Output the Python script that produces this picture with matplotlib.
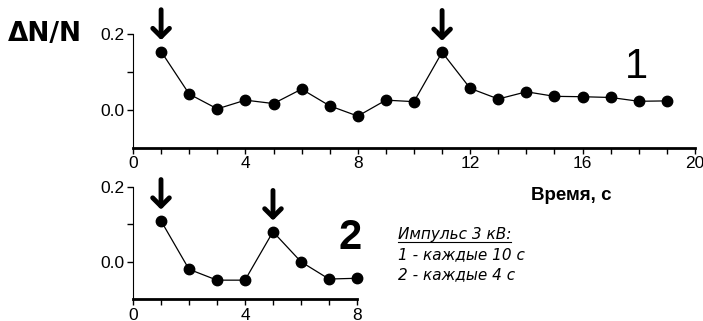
import numpy as np
import matplotlib
matplotlib.use("Agg")
import matplotlib.pyplot as plt
from matplotlib.lines import Line2D
from matplotlib.ticker import MultipleLocator

plt.rcParams['font.family'] = ['Liberation Sans', 'DejaVu Sans']

# Series 1: pulse every 10 s
t1 = [1, 2, 3, 4, 5, 6, 7, 8, 9, 10, 11, 12, 13, 14, 15, 16, 17, 18, 19]
dn1 = [0.154, 0.042, 0.003, 0.026, 0.017, 0.055, 0.011, -0.016, 0.026, 0.022,
       0.152, 0.057, 0.029, 0.048, 0.036, 0.035, 0.033, 0.023, 0.024]
pulses1 = [1, 11]

# Series 2: pulse every 4 s
t2 = [1, 2, 3, 4, 5, 6, 7, 8]
dn2 = [0.109, -0.020, -0.049, -0.049, 0.080, 0.0, -0.046, -0.044]
pulses2 = [1, 5]

ytick_vals = [0.0, 0.1, 0.2]
ytick_labels = ['0.0', '', '0.2']

fig = plt.figure(figsize=(7.03, 3.21), dpi=100)
ax1 = fig.add_axes([0.1892, 0.5389, 0.7994, 0.3551])
ax2 = fig.add_axes([0.1892, 0.0676, 0.3186, 0.3508])


def style(ax, xmax):
    ax.set_xlim(0, xmax)
    ax.set_ylim(-0.1, 0.2)
    for s in ['top', 'right']:
        ax.spines[s].set_visible(False)
    ax.spines['left'].set_linewidth(0.8)
    ax.spines['bottom'].set_linewidth(2)
    ax.xaxis.set_major_locator(MultipleLocator(4))
    ax.xaxis.set_minor_locator(MultipleLocator(1))
    ax.set_yticks(ytick_vals)
    ax.set_yticklabels(ytick_labels)
    ax.tick_params(which='both', direction='out', length=4, width=1, labelsize=12.5, pad=2)
    ax.patch.set_alpha(0)


style(ax1, 20)
style(ax2, 8)

ax1.plot(t1, dn1, '-o', color='black', lw=0.9, ms=7.5, clip_on=False)
ax2.plot(t2, dn2, '-o', color='black', lw=0.9, ms=7.5, clip_on=False)

# pulse arrows above the peaks
for ax, ts, ys, pulses in [(ax1, t1, dn1, pulses1), (ax2, t2, dn2, pulses2)]:
    for p in pulses:
        y = ys[ts.index(p)]
        ax.annotate('', xy=(p, y + 0.03), xytext=(p, y + 0.11),
                    arrowprops=dict(arrowstyle='->,head_length=0.6,head_width=0.6',
                                    lw=3.5, color='black', shrinkA=0, shrinkB=0),
                    annotation_clip=False)

fig.text(0.011, 0.895, 'ΔN/N', fontsize=19, fontweight='bold',
         family='DejaVu Sans', va='center', ha='left')
fig.text(0.906, 0.79, '1', fontsize=30, va='center', ha='center')
fig.text(0.498, 0.26, '2', fontsize=30, fontweight='bold', va='center', ha='center')
fig.text(0.755, 0.39, 'Время, с', fontsize=13.5, fontweight='bold',
         va='center', ha='left')

fig.text(0.566, 0.268, 'Импульс 3 кВ:', fontsize=11, style='italic',
         family='DejaVu Sans', va='center', ha='left')
fig.add_artist(Line2D([0.566, 0.727], [0.247, 0.247], transform=fig.transFigure,
                      color='black', lw=0.8))
fig.text(0.566, 0.205, '1 - каждые 10 с', fontsize=11, style='italic',
         family='DejaVu Sans', va='center', ha='left')
fig.text(0.566, 0.143, '2 - каждые 4 с', fontsize=11, style='italic',
         family='DejaVu Sans', va='center', ha='left')

fig.savefig('out.png', dpi=100)
